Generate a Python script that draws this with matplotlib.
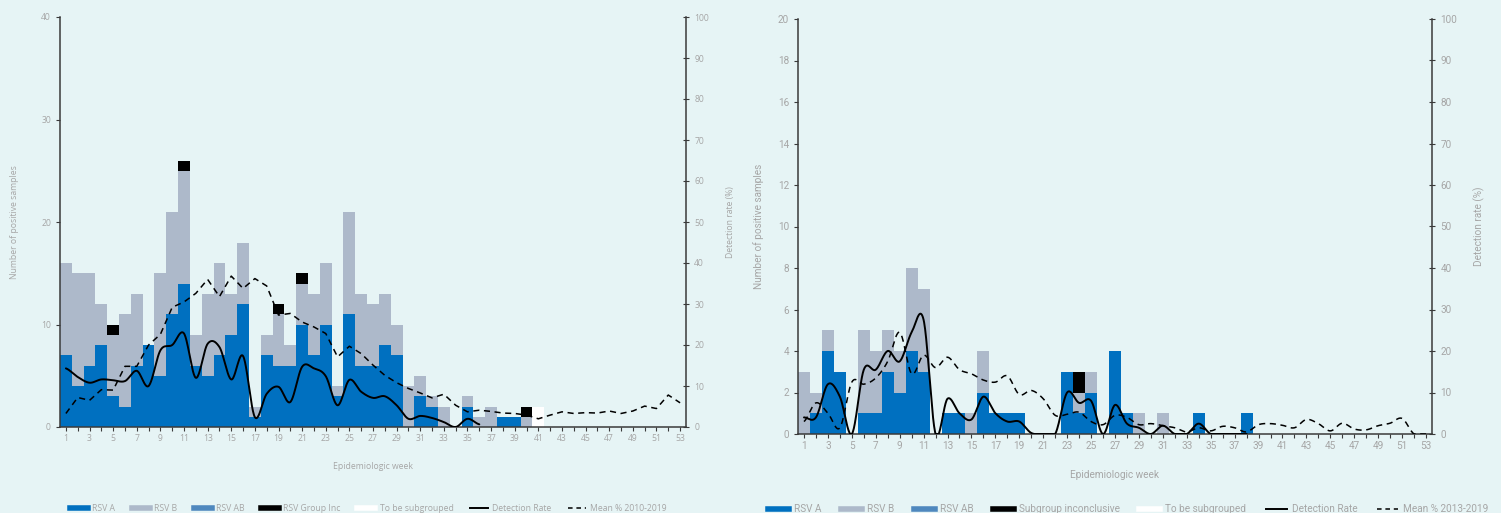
import numpy as np
import matplotlib
matplotlib.use("Agg")
import matplotlib.pyplot as plt
from matplotlib.lines import Line2D

weeks = list(range(1, 54))

# ---------------- Season 1 (left panel) ----------------
s1_rsv_a = [7, 4, 6, 8, 3, 2, 6, 8, 5, 11, 14, 6, 5, 7, 9, 12, 1, 7, 6, 6, 10, 7, 10, 3, 11, 6, 6, 8, 7,
            0, 3, 2, 0, 0, 2, 0, 0, 1, 1, 0, 0] + [0] * 12
s1_rsv_b = [9, 11, 9, 4, 6, 9, 7, 0, 10, 10, 11, 3, 8, 9, 4, 6, 1, 2, 5, 2, 4, 6, 6, 1, 10, 7, 6, 5, 3,
            4, 2, 1, 2, 0, 1, 1, 2, 0, 0, 1, 0] + [0] * 12
s1_rsv_ab = [0] * 53
s1_inconclusive = [0, 0, 0, 0, 1, 0, 0, 0, 0, 0, 1, 0, 0, 0, 0, 0, 0, 0, 1, 0, 1, 0, 0, 0, 0, 0, 0, 0, 0,
                   0, 0, 0, 0, 0, 0, 0, 0, 0, 0, 1, 0] + [0] * 12
s1_to_subgroup = [0] * 40 + [2] + [0] * 12
s1_detection = [14.3, 12.2, 10.8, 11.6, 11.4, 11.2, 13.7, 10.0, 18.7, 20.0, 22.8, 12.0, 20.3, 19.5, 11.6,
                17.3, 2.4, 8.1, 9.8, 6.1, 14.7, 14.3, 12.4, 5.3, 11.5, 8.6, 7.1, 7.5, 5.3, 2.0, 2.7, 2.2,
                1.2, 0.0, 2.0, 0.65]
s1_mean = [3.3, 7.2, 6.5, 9.1, 9.0, 14.8, 14.8, 20.0, 22.6, 29.2, 30.5, 32.6, 36.0, 31.8, 36.8, 33.8, 36.2,
           34.4, 27.3, 27.7, 25.6, 24.4, 22.8, 17.1, 19.7, 17.9, 15.1, 12.6, 10.8, 9.4, 8.3, 7.1, 8.0, 5.3,
           3.7, 4.1, 3.8, 3.4, 3.3, 2.9, 2.0, 2.9, 3.7, 3.3, 3.5, 3.4, 3.9, 3.3, 3.9, 5.1, 4.5, 7.8, 5.9]

# ---------------- Season 2 (right panel) ----------------
s2_rsv_a = [0, 1, 4, 3, 0, 1, 1, 3, 2, 4, 3, 0, 1, 1, 0, 2, 1, 1, 1, 0, 0, 0, 3, 1, 2, 0, 4, 1, 0, 0, 0,
            0, 0, 1, 0, 0, 0, 1] + [0] * 15
s2_rsv_b = [3, 1, 1, 0, 0, 4, 3, 2, 2, 4, 4, 0, 0, 0, 1, 2, 0, 0, 0, 0, 0, 0, 0, 1, 1, 0, 0, 0, 1, 0, 1,
            0, 0, 0, 0, 0, 0, 0] + [0] * 15
s2_rsv_ab = [0] * 53
s2_inconclusive = [0] * 23 + [1] + [0] * 29
s2_to_subgroup = [0] * 53
s2_detection = [4.0, 4.0, 12.0, 9.0, 0.0, 15.5, 15.5, 20.0, 17.5, 24.5, 27.5, 0.0, 8.5, 5.0, 3.5, 9.0,
                5.0, 3.0, 3.0, 0.25, 0.0, 0.0, 10.0, 7.5, 8.0, 0.0, 7.0, 2.5, 1.5, 0.0, 2.0, 0.0, 0.0,
                2.5, 0.0, 0.0, 0.0, 0.0]
s2_mean = [3.0, 7.5, 5.0, 1.5, 12.5, 12.0, 13.5, 17.5, 24.5, 14.5, 19.0, 16.0, 18.5, 15.5, 14.5, 13.0,
           12.5, 14.0, 9.5, 10.5, 8.5, 4.5, 4.75, 5.25, 3.0, 2.25, 4.5, 4.0, 2.25, 2.5, 2.0, 1.5, 0.5,
           1.5, 0.75, 1.85, 1.5, 0.5, 2.25, 2.5, 2.1, 1.5, 3.5, 2.5, 0.75, 2.6, 1.2, 1.0, 2.0, 2.6, 3.75,
           0.0, 0.0]

legend_s1 = ["RSV A", "RSV B", "RSV AB", "RSV Group Inc", "To be subgrouped", "Detection Rate",
             "Mean % 2010-2019"]
legend_s2 = ["RSV A", "RSV B", "RSV AB", "Subgroup inconclusive", "To be subgrouped", "Detection Rate",
             "Mean % 2013-2019"]

BG = "#E6F4F5"
C_A = "#0070C0"
C_B = "#ADB9CA"
C_AB = "#4F88BE"
C_INC = "#000000"
C_TBS = "#FFFFFF"
TXT = "#A6A6A6"
SPINE = "#3A3A3A"


def smooth(xs, ys, n=24):
    """Catmull-Rom style smoothing between consecutive points."""
    xs = np.asarray(xs, float)
    ys = np.asarray(ys, float)
    px = np.concatenate([[2 * xs[0] - xs[1]], xs, [2 * xs[-1] - xs[-2]]])
    py = np.concatenate([[ys[0]], ys, [ys[-1]]])
    out_x, out_y = [], []
    t = np.linspace(0, 1, n, endpoint=False)
    for i in range(1, len(px) - 2):
        p0, p1, p2, p3 = py[i - 1], py[i], py[i + 1], py[i + 2]
        x0, x1, x2, x3 = px[i - 1], px[i], px[i + 1], px[i + 2]
        out_x.extend(0.5 * ((2 * x1) + (-x0 + x2) * t + (2 * x0 - 5 * x1 + 4 * x2 - x3) * t ** 2
                            + (-x0 + 3 * x1 - 3 * x2 + x3) * t ** 3))
        out_y.extend(0.5 * ((2 * p1) + (-p0 + p2) * t + (2 * p0 - 5 * p1 + 4 * p2 - p3) * t ** 2
                            + (-p0 + 3 * p1 - 3 * p2 + p3) * t ** 3))
    out_x.append(xs[-1])
    out_y.append(ys[-1])
    return np.array(out_x), np.array(out_y)


def draw_panel(fig, rect, a, b, ab, inc, tbs, det, mean, ymax, ystep, fs, mean_smooth, labels, leg_x,
               leg_y, leg_fs, colspacing, font, ylabelpad):
    ax = fig.add_axes(rect)
    ax.set_facecolor(BG)
    x = np.array(weeks)
    series = [(a, C_A), (b, C_B), (ab, C_AB), (inc, C_INC), (tbs, C_TBS)]
    bottom = np.zeros(len(weeks))
    for vals, col in series:
        v = np.array(vals, float)
        ax.bar(x, v, width=1.0, bottom=bottom, color=col, linewidth=0)
        bottom += v
    ax.set_xlim(0.5, 53.5)
    ax.set_ylim(0, ymax)
    ax.set_yticks(np.arange(0, ymax + 0.1, ystep))
    ax.set_xticks(weeks)
    ax.set_xticklabels([str(w) if w % 2 == 1 else "" for w in weeks])
    ax.tick_params(axis="both", colors=SPINE, labelcolor=TXT, labelsize=fs, length=3, width=0.8)
    ax.tick_params(axis="x", pad=2)
    for s in ["top", "right"]:
        ax.spines[s].set_visible(False)
    for s in ["left", "bottom"]:
        ax.spines[s].set_color(SPINE)
        ax.spines[s].set_linewidth(1.1)
    for lab in ax.get_xticklabels() + ax.get_yticklabels():
        lab.set_fontfamily(font)
    ax.set_xlabel("Epidemiologic week", fontsize=fs, color=TXT, family=font, labelpad=14)
    ax.set_ylabel("Number of positive samples", fontsize=fs, color=TXT, family=font,
                  labelpad=ylabelpad)

    ax2 = ax.twinx()
    ax2.set_ylim(0, 100)
    ax2.set_yticks(np.arange(0, 101, 10))
    ax2.tick_params(axis="y", colors=SPINE, labelcolor=TXT, labelsize=fs, length=5, width=0.8,
                    direction="inout")
    for s in ["top", "left", "bottom"]:
        ax2.spines[s].set_visible(False)
    ax2.spines["right"].set_color(SPINE)
    ax2.spines["right"].set_linewidth(1.1)
    for lab in ax2.get_yticklabels():
        lab.set_fontfamily(font)
    ax2.set_ylabel("Detection rate (%)", fontsize=fs, color=TXT, family=font, labelpad=12)

    dx = weeks[:len(det)]
    sx, sy = smooth(dx, det)
    ax2.plot(sx, np.clip(sy, 0, None), color="black", lw=1.4, solid_capstyle="round", zorder=5)
    mx = weeks[:len(mean)]
    if mean_smooth:
        mxs, mys = smooth(mx, mean)
        ax2.plot(mxs, np.clip(mys, 0, None), color="black", lw=1.1, dashes=(4, 3), zorder=5)
    else:
        ax2.plot(mx, mean, color="black", lw=1.1, dashes=(4, 3), zorder=5)

    handles = [Line2D([], [], color=C_A, lw=4), Line2D([], [], color=C_B, lw=4),
               Line2D([], [], color=C_AB, lw=4), Line2D([], [], color=C_INC, lw=4),
               Line2D([], [], color=C_TBS, lw=4), Line2D([], [], color="black", lw=1.4),
               Line2D([], [], color="black", lw=1.1, dashes=(3, 2.5))]
    leg = fig.legend(handles, labels, loc="lower left", bbox_to_anchor=(leg_x, leg_y), ncol=7,
                     frameon=False, handlelength=2.1, handletextpad=0.5,
                     columnspacing=colspacing, borderaxespad=0, borderpad=0,
                     prop={"family": font, "size": leg_fs})
    for t in leg.get_texts():
        t.set_color(TXT)
    return ax, ax2


fig = plt.figure(figsize=(15.01, 5.13), dpi=100)
fig.patch.set_facecolor(BG)

draw_panel(fig, [60 / 1501, 1 - 427 / 513, 626 / 1501, 410 / 513], s1_rsv_a, s1_rsv_b, s1_rsv_ab,
           s1_inconclusive, s1_to_subgroup, s1_detection, s1_mean, 40, 10, 6.2, False, legend_s1,
           70 / 1501, 0.0, 6.2, 1.9, "Open Sans", 16)
draw_panel(fig, [798 / 1501, 1 - 434 / 513, 634 / 1501, 415 / 513], s2_rsv_a, s2_rsv_b, s2_rsv_ab,
           s2_inconclusive, s2_to_subgroup, s2_detection, s2_mean, 20, 2, 7.2, True, legend_s2,
           768 / 1501, -0.002, 7.2, 1.95, "Roboto", 10)

fig.savefig("out.png", dpi=100, facecolor=BG)
